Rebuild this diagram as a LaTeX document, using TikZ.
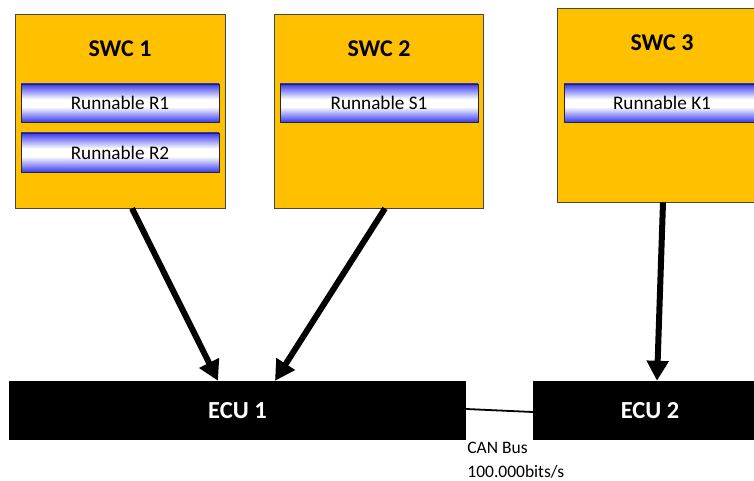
\documentclass[tikz,border=0pt]{standalone}
\usepackage{fontspec}
\setmainfont{Carlito}
\usetikzlibrary{arrows.meta,calc}

\definecolor{swcfill}{RGB}{255,192,0}
\definecolor{swcline}{RGB}{70,70,70}
\definecolor{runblue}{RGB}{58,58,240}

% blue edges fading to white in the middle
\pgfdeclareverticalshading{runshade}{100bp}{%
  color(0bp)=(runblue); color(25bp)=(runblue); color(45bp)=(white);
  color(55bp)=(white); color(75bp)=(runblue); color(100bp)=(runblue)}

\tikzset{
  swcbox/.style={draw=swcline, line width=0.8pt, fill=swcfill, inner sep=0pt,
    minimum width=210pt, minimum height=194pt},
  swctitle/.style={anchor=base, inner sep=0pt, font=\fontsize{24}{28}\selectfont\bfseries},
  runbox/.style={draw=black!85, line width=0.8pt, shading=runshade, inner sep=0pt,
    minimum width=198pt, minimum height=38pt, font=\fontsize{19.2}{22}\selectfont},
  ecubox/.style={fill=black, inner sep=0pt, minimum height=59pt, text=white,
    font=\fontsize{24.5}{28}\selectfont\bfseries},
  deploy/.style={line width=6pt, -{Triangle[length=20pt,width=21pt]}},
  busline/.style={line width=1.8pt},
}

\begin{document}
\begin{tikzpicture}[x=1pt, y=-1pt]
\useasboundingbox (0,0) rectangle (754,481);
\clip (0,0) rectangle (754,481);

% software components
\node[swcbox] (swc1) at (120,111) {};
\node[swcbox, minimum width=209pt] (swc2) at (378.5,111) {};
\node[swcbox] (swc3) at (662,105) {};

\node[swctitle] (swc1t) at (120,57) {SWC 1};
\node[swctitle] (swc2t) at (379,57) {SWC 2};
\node[swctitle] (swc3t) at (662,51) {SWC 3};

% runnables
\node[runbox] (r1) at (120,103) {Runnable R1};
\node[runbox, minimum height=39pt] (r2) at (120,152.5) {Runnable R2};
\node[runbox] (s1) at (379,103) {Runnable S1};
\node[runbox, minimum width=196pt] (k1) at (662,103) {Runnable K1};

% ECUs
\node[ecubox, minimum width=457pt] (ecu1) at (237.5,410.5) {ECU 1};
\node[ecubox, minimum width=234pt] (ecu2) at (650,410.5) {ECU 2};

% mapping of components to ECUs
\draw[deploy] ($(swc1.south)+(12,0)$) -- ($(ecu1.north)+(-19.5,0)$);
\draw[deploy] ($(swc2.south)+(6.5,0)$) -- ($(ecu1.north)+(37.5,0)$);
\draw[deploy] ($(swc3.south)+(1,0)$) -- ($(ecu2.north)+(7,0)$);

% bus between the ECUs
\draw[busline] ($(ecu1.east)+(0,-1.5)$) -- ($(ecu2.west)+(0,1.5)$);
\node[anchor=north west, inner sep=0pt, align=left,
      font=\fontsize{17.5}{24}\selectfont] (bus) at ($(ecu1.south east)+(1,2)$)
  {CAN Bus\\100.000bits/s};
\end{tikzpicture}
\end{document}
